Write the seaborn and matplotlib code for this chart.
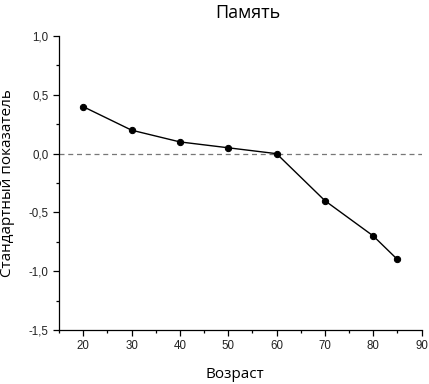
import pandas as pd
import matplotlib
matplotlib.use("Agg")
import matplotlib.pyplot as plt
import matplotlib.ticker as mticker
import seaborn as sns

# Data
age = [20, 30, 40, 50, 60, 70, 80, 85]
score = [0.4, 0.2, 0.1, 0.05, 0.0, -0.4, -0.7, -0.9]

df = pd.DataFrame({"Возраст": age, "score": score})

sns.set_style("ticks")
plt.rcParams["font.family"] = ["Liberation Sans", "DejaVu Sans"]
plt.rcParams["text.color"] = "black"
plt.rcParams["axes.labelcolor"] = "black"

fig = plt.figure(figsize=(4.29, 3.84), dpi=100)
ax = fig.add_axes([0.1375, 0.1406, 0.8453, 0.7654])

ax.axhline(0, color="#777777", linestyle=(0, (4, 3)), linewidth=0.9, zorder=1)
sns.lineplot(data=df, x="Возраст", y="score", ax=ax, color="black",
             linewidth=1.0, marker="o", markersize=4.5, markeredgecolor="black",
             zorder=3)

ax.set_xlim(15, 90)
ax.set_ylim(-1.5, 1.0)
ax.xaxis.set_major_locator(mticker.MultipleLocator(10))
ax.xaxis.set_minor_locator(mticker.MultipleLocator(5))
ax.yaxis.set_major_locator(mticker.MultipleLocator(0.5))
ax.yaxis.set_minor_locator(mticker.MultipleLocator(0.25))
ax.yaxis.set_major_formatter(mticker.FuncFormatter(lambda v, p: f"{v:.1f}".replace(".", ",")))
ax.tick_params(which="major", length=4, width=0.9, labelsize=8.3,
               color="black", labelcolor="#222222")
ax.tick_params(which="minor", length=2.5, width=0.9, color="black")

sns.despine(ax=ax)
for s in ("left", "bottom"):
    ax.spines[s].set_linewidth(0.9)
    ax.spines[s].set_color("black")

lab = dict(family=["Open Sans", "DejaVu Sans"], fontsize=11, color="black")
ax.set_xlabel("Возраст", labelpad=12, **lab)
ax.xaxis.set_label_coords(0.485, -0.125)
ax.set_ylabel("Стандартный показатель", labelpad=10, **lab)
ax.set_title("Память", family=["Open Sans", "DejaVu Sans"], fontsize=13,
             color="black", pad=13, x=0.52)

fig.savefig("out.png", dpi=100)
